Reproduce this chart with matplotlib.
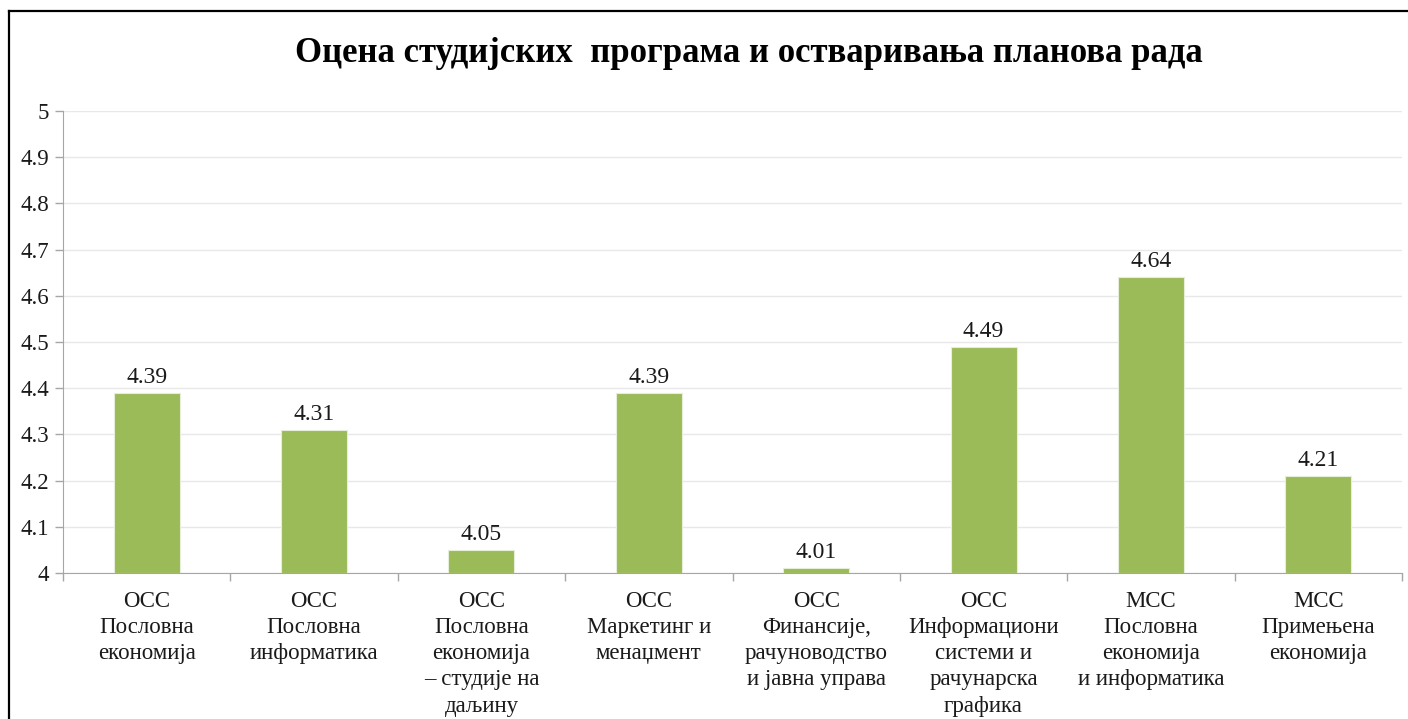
import matplotlib
matplotlib.use("Agg")
import matplotlib.pyplot as plt
from matplotlib.lines import Line2D
import numpy as np

plt.rcParams['font.family'] = ['Liberation Serif', 'DejaVu Serif']

title = "Оцена студијских  програма и остваривања планова рада"
programs = [
    "ОСС\nПословна\nекономија",
    "ОСС\nПословна\nинформатика",
    "ОСС\nПословна\nекономија\n– студије на\nдаљину",
    "ОСС\nМаркетинг и\nменаџмент",
    "ОСС\nФинансије,\nрачуноводство\nи јавна управа",
    "ОСС\nИнформациони\nсистеми и\nрачунарска\nграфика",
    "МСС\nПословна\nекономија\nи информатика",
    "МСС\nПримењена\nекономија",
]
scores = [4.39, 4.31, 4.05, 4.39, 4.01, 4.49, 4.64, 4.21]
yticks = [4, 4.1, 4.2, 4.3, 4.4, 4.5, 4.6, 4.7, 4.8, 4.9, 5]
ytick_labels = ["4", "4.1", "4.2", "4.3", "4.4", "4.5", "4.6", "4.7", "4.8", "4.9", "5"]

W, H = 1408, 719
fig = plt.figure(figsize=(W / 100, H / 100), dpi=100)
ax = fig.add_axes([63 / W, 1 - 573 / H, (1402 - 63) / W, (573 - 111) / H])

x = np.arange(len(scores))
bars = ax.bar(x, [s - 4 for s in scores], bottom=4, width=0.395, color="#9BBB59",
              edgecolor="#E6EDD8", linewidth=0.8, zorder=3)
for xi, s in zip(x, scores):
    ax.text(xi, s + 0.011, f"{s:.2f}", ha="center", va="bottom", fontsize=17, color="#1a1a1a")

ax.set_xlim(-0.5, len(scores) - 0.5)
ax.set_ylim(4, 5)
ax.set_yticks(yticks)
ax.set_yticklabels(ytick_labels, fontsize=16.5, color="#1a1a1a")
ax.set_xticks(x)
ax.set_xticklabels(programs, fontsize=16.5, color="#1a1a1a", linespacing=1.32, va="top")
ax.tick_params(axis="x", which="major", length=0, pad=13)
ax.set_xticks(np.arange(len(scores) + 1) - 0.5, minor=True)
ax.tick_params(axis="x", which="minor", length=6, color="#A6A6A6", width=1)
ax.tick_params(axis="y", length=6, color="#A6A6A6", width=1, pad=4)

ax.grid(axis="y", color="#E8E8E8", linewidth=1, zorder=0)
for side in ["top", "right"]:
    ax.spines[side].set_visible(False)
ax.spines["left"].set_color("#A6A6A6")
ax.spines["bottom"].set_color("#A6A6A6")

fig.text(749 / W, 1 - 54 / H, title, ha="center", va="center", fontsize=25, fontweight="bold")

# frame lines (top and left)
fig.add_artist(Line2D([9 / W, 1], [1 - 11 / H, 1 - 11 / H], transform=fig.transFigure, color="black", linewidth=1.6))
fig.add_artist(Line2D([9 / W, 9 / W], [0, 1 - 11 / H], transform=fig.transFigure, color="black", linewidth=1.6))

fig.savefig("out.png", dpi=100)
